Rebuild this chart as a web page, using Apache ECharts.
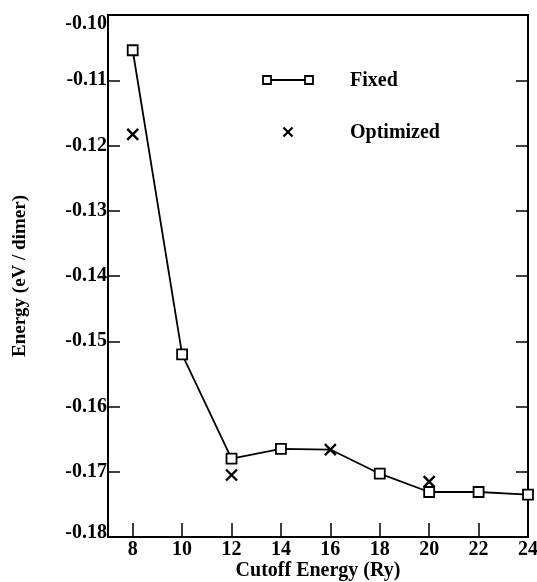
<!DOCTYPE html>
<html>
<head>
<meta charset="utf-8">
<script src="https://cdn.jsdelivr.net/npm/echarts@6/dist/echarts.min.js"></script>
<style>html,body{margin:0;padding:0;background:#fff}#c{width:537px;height:582px}</style>
</head>
<body>
<div id="c"></div>
<script>
const energies = [8, 10, 12, 14, 16, 18, 20, 22, 24];
const fixedVals = [-0.1054, -0.1520, -0.1680, -0.1665, -0.1666, -0.1703, -0.1731, -0.1731, -0.1735];
const optEnergies = [8, 12, 16, 20];
const optVals = [-0.1183, -0.1705, -0.1666, -0.1715];
const xTickVals = [8, 10, 12, 14, 16, 18, 20, 22, 24];
const yTickVals = [-0.18, -0.17, -0.16, -0.15, -0.14, -0.13, -0.12, -0.11, -0.10];
const seriesNames = ['Fixed', 'Optimized'];
const xName = 'Cutoff Energy (Ry)';
const yName = 'Energy (eV / dimer)';

const FONT = '"Liberation Serif", "Times New Roman", serif';
const X_PATH = 'path://M0,0L10,10M10,0L0,10';

const chart = echarts.init(document.getElementById('c'), null, {renderer: 'canvas'});

const fixedData = energies.map((e, i) => {
  const item = {value: [e, fixedVals[i]]};
  if (optEnergies.includes(e) && Math.abs(optVals[optEnergies.indexOf(e)] - fixedVals[i]) < 0.0002) {
    item.symbolSize = 0;
  }
  return item;
});

const yLabelFmt = v => {
  const s = v.toFixed(2);
  if (Math.abs(v - (-0.10)) < 1e-6) return '{t|' + s + '}';
  if (Math.abs(v - (-0.18)) < 1e-6) return '{b|' + s + '}';
  return '{n|' + s + '}';
};
const labelTxt = {fontFamily: FONT, fontWeight: 'bold', fontSize: 20, color: '#000'};

chart.setOption({
  animation: false,
  backgroundColor: '#fff',
  grid: {left: 108, right: 9, top: 15, bottom: 45, show: true, borderColor: '#000', borderWidth: 2,
         containLabel: false, outerBoundsMode: 'none'},
  xAxis: [{
    type: 'value', min: 7, max: 24,
    name: xName, nameLocation: 'middle', nameGap: 24, nameMoveOverlap: false,
    nameTextStyle: {fontFamily: FONT, fontWeight: 'bold', fontSize: 20, color: '#000'},
    axisLine: {show: true, onZero: false, lineStyle: {color: '#000', width: 2}},
    axisTick: {show: true, inside: true, length: 14, customValues: xTickVals, lineStyle: {color: '#000', width: 1.5}},
    axisLabel: {show: true, customValues: xTickVals, margin: 3, fontFamily: FONT, fontWeight: 'bold', fontSize: 20, color: '#000'},
    splitLine: {show: false}
  }],
  yAxis: [{
    type: 'value', min: -0.18, max: -0.10, interval: 0.01,
    name: yName, nameLocation: 'middle', nameGap: 78, nameRotate: 90, nameMoveOverlap: false,
    nameTextStyle: {fontFamily: FONT, fontWeight: 'bold', fontSize: 19, color: '#000'},
    axisLine: {show: true, onZero: false, lineStyle: {color: '#000', width: 2}},
    axisTick: {show: true, inside: true, length: 12, customValues: yTickVals, lineStyle: {color: '#000', width: 1.5}},
    axisLabel: {show: true, customValues: yTickVals, margin: 1, formatter: yLabelFmt,
      rich: {
        n: Object.assign({}, labelTxt),
        t: Object.assign({padding: [17, 0, 0, 0]}, labelTxt),
        b: Object.assign({padding: [0, 0, 8, 0]}, labelTxt)
      }},
    splitLine: {show: false}
  }, {
    type: 'value', min: -0.18, max: -0.10, interval: 0.01, position: 'right',
    axisLine: {show: true, onZero: false, lineStyle: {color: '#000', width: 2}},
    axisTick: {show: true, inside: true, length: 12, customValues: yTickVals, lineStyle: {color: '#000', width: 1.5}},
    axisLabel: {show: false},
    splitLine: {show: false}
  }],
  series: [{
    name: seriesNames[0], type: 'line', xAxisIndex: 0, yAxisIndex: 0,
    data: fixedData, clip: true,
    symbol: 'rect', symbolSize: 10, showAllSymbol: true,
    lineStyle: {color: '#000', width: 1.8},
    itemStyle: {color: '#fff', borderColor: '#000', borderWidth: 1.8},
    z: 3
  }, {
    name: seriesNames[1], type: 'scatter', xAxisIndex: 0, yAxisIndex: 0,
    data: optEnergies.map((e, i) => [e, optVals[i]]),
    symbol: X_PATH, symbolSize: 11,
    itemStyle: {color: 'none', borderColor: '#000', borderWidth: 2.4, opacity: 1},
    z: 4
  }],
  graphic: [
    {type: 'line', shape: {x1: 267, y1: 80, x2: 309, y2: 80}, style: {stroke: '#000', lineWidth: 1.8}},
    {type: 'rect', shape: {x: 263, y: 76, width: 8, height: 8}, style: {fill: '#fff', stroke: '#000', lineWidth: 1.8}},
    {type: 'rect', shape: {x: 305, y: 76, width: 8, height: 8}, style: {fill: '#fff', stroke: '#000', lineWidth: 1.8}},
    {type: 'text', x: 350, y: 81, style: {text: seriesNames[0], fontFamily: FONT, fontWeight: 'bold', fontSize: 20, fill: '#000', verticalAlign: 'middle'}},
    {type: 'line', shape: {x1: 283.5, y1: 127.5, x2: 292.5, y2: 136.5}, style: {stroke: '#000', lineWidth: 2.2}},
    {type: 'line', shape: {x1: 292.5, y1: 127.5, x2: 283.5, y2: 136.5}, style: {stroke: '#000', lineWidth: 2.2}},
    {type: 'text', x: 350, y: 133, style: {text: seriesNames[1], fontFamily: FONT, fontWeight: 'bold', fontSize: 20, fill: '#000', verticalAlign: 'middle'}}
  ]
});
</script>
</body>
</html>
